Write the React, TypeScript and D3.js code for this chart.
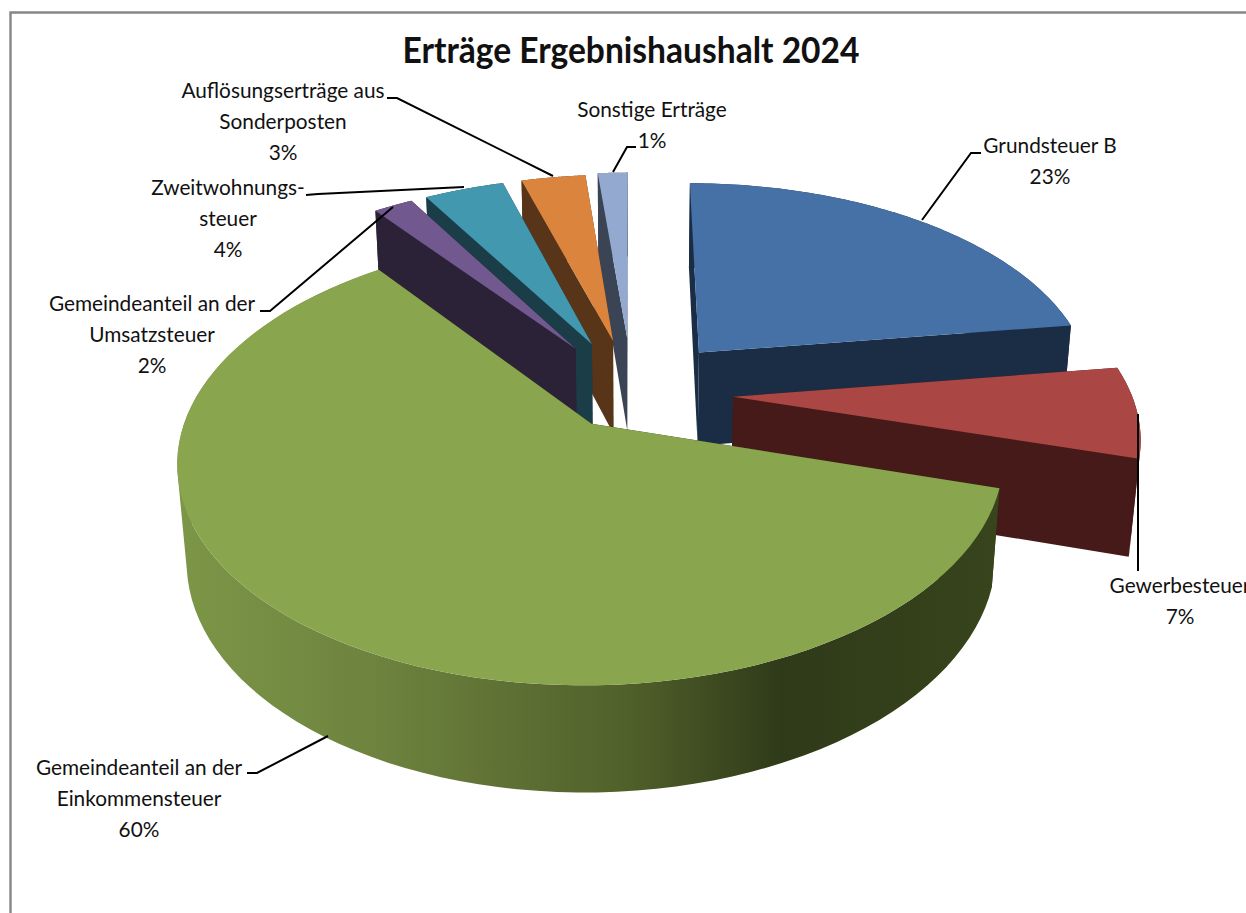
import React from "react";
import * as d3 from "d3";

const categories = [
  "Grundsteuer B",
  "Gewerbesteuer",
  "Gemeindeanteil an der Einkommensteuer",
  "Gemeindeanteil an der Umsatzsteuer",
  "Zweitwohnungssteuer",
  "Auflösungserträge aus Sonderposten",
  "Sonstige Erträge",
];
const shares = [22.7, 6.8, 60.05, 1.9, 3.85, 3.1, 1.45];
const topColors = ["#4571A7", "#AA4643", "#89A54E", "#71588F", "#4198AF", "#DB843D", "#93A9CF"];
const wallColors = ["#1B2D45", "#451A18", "#2F3A19", "#2C2238", "#1A3D47", "#583418", "#3A4455"];
const explode = [0.265, 0.254, 0.175, 0.264, 0.264, 0.264, 0.274];
const paintOrder = [6, 5, 4, 3, 0, 1, 2];

const labelLines = [
  ["Grundsteuer B", "23%"],
  ["Gewerbesteuer", "7%"],
  ["Gemeindeanteil an der", "Einkommensteuer", "60%"],
  ["Gemeindeanteil an der", "Umsatzsteuer", "2%"],
  ["Zweitwohnungs-", "steuer", "4%"],
  ["Auflösungserträge aus", "Sonderposten", "3%"],
  ["Sonstige Erträge", "1%"],
];
const labelX = [1050, 1180, 139, 152, 228, 283, 652];
const labelY = [153, 593, 775, 311, 195, 98, 117];
const leaders: [number, number][][] = [
  [[922, 220], [971, 153], [981, 153]],
  [[1138, 414], [1138, 571]],
  [[328, 736], [257, 773], [247, 773]],
  [[393, 207], [270, 311], [260, 311]],
  [[464, 187], [318, 194], [306, 195]],
  [[553, 176], [397, 98], [387, 98]],
  [[613, 172], [627, 147], [636, 147]],
];

const CX = 632, CY = 393, RX = 398, RY = 208.5, PERSP = 0.161, BOTTOM_Q = 0.02, DEPTH = 95;

function project(u: number, v: number, h: number): [number, number] {
  const w = 1 + PERSP * v;
  return [
    CX + (RX * u) / (w + BOTTOM_Q * h),
    CY + (-RY * v) / (w + BOTTOM_Q * h) + (DEPTH * h) / Math.pow(w, 0.9),
  ];
}

const pieGen = d3.pie<number>().sort(null).value((d) => d);
const arcs = pieGen(shares);
const lineGen = d3.line<[number, number]>().x((d) => d[0]).y((d) => d[1]);

function sliceGeometry(i: number) {
  const a = arcs[i];
  const mid = (a.startAngle + a.endAngle) / 2;
  const ou = explode[i] * Math.sin(mid);
  const ov = explode[i] * Math.cos(mid);
  const rim = (t: number, h: number) => project(ou + Math.sin(t), ov + Math.cos(t), h);
  const apex = (h: number) => project(ou, ov, h);
  const steps = d3.range(0, 91).map((k) => a.startAngle + ((a.endAngle - a.startAngle) * k) / 90);
  const close = (pts: [number, number][]) => lineGen(pts) + "Z";
  // Every strip of the rim wall gets the same winding, so the one path fills as their union.
  const orient = (pts: [number, number][]) => (d3.polygonArea(pts) < 0 ? pts.slice().reverse() : pts);
  return {
    top: close([apex(0), ...steps.map((t) => rim(t, 0))]),
    startWall: close([apex(0), rim(a.startAngle, 0), rim(a.startAngle, 1), apex(1)]),
    endWall: close([apex(0), rim(a.endAngle, 0), rim(a.endAngle, 1), apex(1)]),
    outerWall: d3
      .pairs(steps)
      .map(([t0, t1]) => close(orient([rim(t0, 0), rim(t1, 0), rim(t1, 1), rim(t0, 1)])))
      .join(""),
  };
}

const TEXT_FONT = "Lato, 'Open Sans', sans-serif";

export default function App() {
  return (
    <svg
      width={1246}
      height={913}
      style={{ position: "fixed", left: 0, top: 0, display: "block", background: "#fff" }}
    >
      <defs>
        <linearGradient id="greenWall" gradientUnits="userSpaceOnUse" x1={180} y1={0} x2={995} y2={0}>
          <stop offset="0" stopColor="#7C9647" />
          <stop offset="0.25" stopColor="#6D823E" />
          <stop offset="0.55" stopColor="#50602A" />
          <stop offset="0.74" stopColor="#2F3A19" />
          <stop offset="1" stopColor="#38441C" />
        </linearGradient>
      </defs>
      <path d="M10.5 913V12.5H1246" fill="none" stroke="#868686" strokeWidth={2.4} />
      <text
        x={631}
        y={63}
        textAnchor="middle"
        fontFamily={TEXT_FONT}
        fontWeight={700}
        fontSize={36}
        fill="#111"
        textLength={457}
        lengthAdjust="spacingAndGlyphs"
      >
        Erträge Ergebnishaushalt 2024
      </text>
      {paintOrder.map((i) => {
        const g = sliceGeometry(i);
        const wall = i === 2 ? "url(#greenWall)" : wallColors[i];
        return (
          <g key={categories[i]}>
            <path d={g.startWall} fill={wallColors[i]} />
            <path d={g.endWall} fill={wallColors[i]} />
            <path d={g.outerWall} fill={wall} fillRule="nonzero" />
            <path d={g.top} fill={topColors[i]} />
          </g>
        );
      })}
      {leaders.map((pts, i) => (
        <path key={i} d={lineGen(pts) as string} fill="none" stroke="#000" strokeWidth={2} />
      ))}
      {labelLines.map((lines, i) => (
        <text key={i} textAnchor="middle" fontFamily={TEXT_FONT} fontSize={20.8} fill="#111">
          {lines.map((t, k) => (
            <tspan key={k} x={labelX[i]} y={labelY[i] + k * 31}>
              {t}
            </tspan>
          ))}
        </text>
      ))}
    </svg>
  );
}
